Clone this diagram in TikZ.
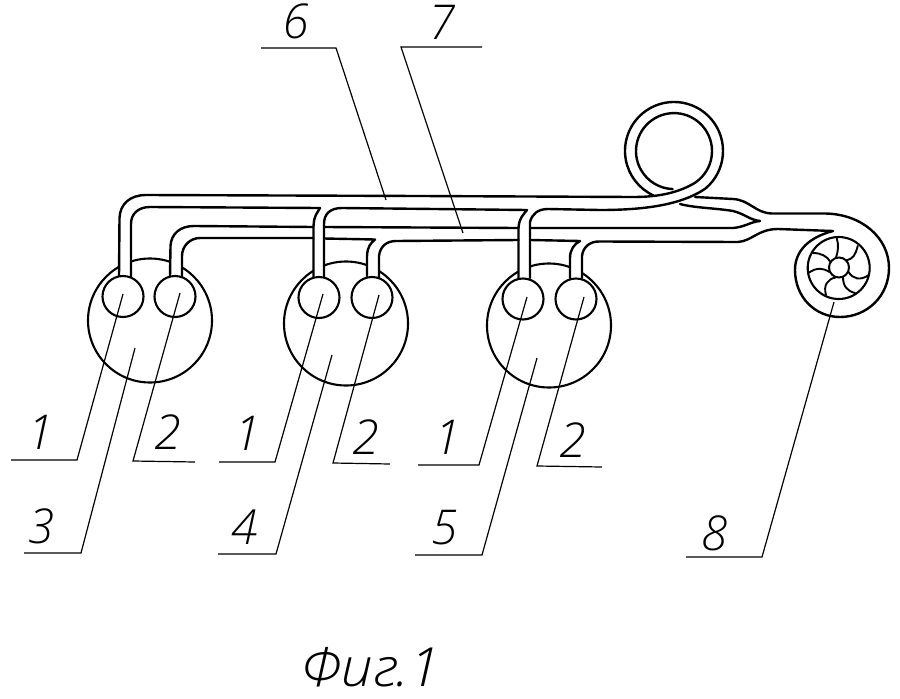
\documentclass[tikz,border=0pt]{standalone}
\usepackage{fontspec}
\newfontfamily\hand{Open Sans Light Italic}
\tikzset{
  wall/.style={line width=2.4pt,line cap=round,line join=round},
  lead/.style={line width=1.2pt,line cap=butt,line join=miter},
  body/.style={draw,circle,line width=2.1pt,inner sep=0pt,minimum size=124pt},
  port/.style={draw,circle,line width=2.1pt,inner sep=0pt,minimum size=41pt,fill=white},
  digit/.style={font=\hand\fontsize{48}{48}\selectfont,inner sep=0pt},
}
\begin{document}
\begin{tikzpicture}[x=1pt,y=-1pt]
\useasboundingbox (0,0) rectangle (900,699);
% bodies
\node[body] (b3) at (150,320.5) {};
\node[body] (b4) at (346,323.5) {};
\node[body] (b5) at (549,325.5) {};
\fill[white] (120,250) rectangle (130,277) (171,250) rectangle (181,277)
  (314,250) rectangle (323,277) (368,250) rectangle (378,277)
  (519,250) rectangle (529,278) (571,250) rectangle (581,278);
% tube 6
\draw[wall] (119,277) -- (119.5,218) .. controls (120,204) and (130,195) .. (146,195) -- (420,196) -- (633,197)
  .. controls (655,197) and (675,194) .. (693,184)
  arc[start angle=-60,end angle=268,radius=38pt];
\draw[wall] (131,277) -- (131,224) .. controls (131,214) and (138,207) .. (150,207) -- (320,208)
  .. controls (318,212) and (314,215) .. (313.5,226) -- (313.5,277);
\draw[wall] (324,277) -- (324,224) .. controls (324,214) and (330,208) .. (342,208) -- (527,210)
  .. controls (524,214) and (519,218) .. (518.5,228) -- (518.5,278);
\draw[wall] (530,278) -- (530,222) .. controls (532,214) and (538,209) .. (548,209) -- (600,210)
  .. controls (640,210) and (680,206) .. (705.5,188.5)
  arc[start angle=-50,end angle=245,radius=49pt];
% tube 7
\draw[wall] (170,277) -- (170.5,246) .. controls (171,234) and (180,226) .. (194,226) -- (313.5,227);
\draw[wall] (182,277) -- (182,256) .. controls (182,246) and (190,238) .. (200,238) -- (313.5,238);
\draw[wall] (324,227) -- (518.5,228);
\draw[wall] (324,238.5) -- (375,239.5) .. controls (371,243) and (367.5,246) .. (367,256) -- (367,278);
\draw[wall] (379,278) -- (379,256) .. controls (380,247) and (386,241) .. (396,241) -- (518.5,240);
\draw[wall] (530,228) -- (733,228) .. controls (745,227) and (750,222) .. (760,221)
  .. controls (750,220) and (745,214) .. (733,211) .. controls (715,208) and (695,208) .. (680,204);
\draw[wall] (530,240) -- (580,241) .. controls (574,244) and (570,250) .. (570,258) -- (570,278);
\draw[wall] (582,278) -- (582,256) .. controls (583,247) and (590,241) .. (600,241.5) -- (738,242)
  .. controls (752,241) and (758,229) .. (778,229) -- (833,231)
  .. controls (810,237) and (795,250) .. (795,270)
  .. controls (795,297) and (815,317) .. (840,317)
  .. controls (867,317) and (889,296) .. (889,268)
  .. controls (889,238) and (862,214) .. (825,213.5) -- (772,213.5)
  .. controls (755,213) and (750,200) .. (733,199) -- (695,197);
% ports
\node[port] (p3a) at (123,296.5) {};
\node[port] (p3b) at (175,296.5) {};
\node[port] (p4a) at (319,297.5) {};
\node[port] (p4b) at (372,297.5) {};
\node[port] (p5a) at (523,299) {};
\node[port] (p5b) at (576,299) {};
% fan
\node[draw,circle,line width=2.1pt,inner sep=0pt,minimum size=62pt] (fan) at (838.7,268) {};
\node[draw,circle,line width=2pt,inner sep=0pt,minimum size=20pt] (hub) at (839,267.5) {};
\draw[wall,line width=1.9pt]
  (836.7,238) .. controls (839,245) and (838,252) .. (836,257.5)
  (857.7,246) .. controls (855.5,255) and (853,259) .. (846,260.5)
  (869,275) .. controls (860,281) and (853,279) .. (848.5,272)
  (855,293) .. controls (847,291) and (843,286) .. (843,277)
  (826,295) .. controls (823,285) and (828,279) .. (835.5,277.5)
  (808.3,273) .. controls (817,267) and (823,268) .. (829.5,272)
  (812.7,253) .. controls (821,253) and (827,256) .. (830.5,262);
% leaders
\coordinate (t3a) at (123,294); \coordinate (t3b) at (180,293); \coordinate (t3) at (135,348);
\coordinate (t4a) at (323,294); \coordinate (t4b) at (379,295); \coordinate (t4) at (332,355);
\coordinate (t5a) at (527,297); \coordinate (t5b) at (584,297); \coordinate (t5) at (537,358);
\coordinate (t6) at (386,200); \coordinate (t7) at (463,233); \coordinate (t8) at (834,302);
\draw[lead] (11,460) -- (77,460) -- (t3a);
\draw[lead] (195,462) -- (133,461) -- (t3b);
\draw[lead] (24,553) -- (81,553) -- (t3);
\draw[lead] (219,462) -- (275,462) -- (t4a);
\draw[lead] (390,464) -- (333,463) -- (t4b);
\draw[lead] (218,554) -- (276,554) -- (t4);
\draw[lead] (418,465) -- (479,465) -- (t5a);
\draw[lead] (602,467) -- (537,466) -- (t5b);
\draw[lead] (415,555) -- (482,555) -- (t5);
\draw[lead] (261,48) -- (336,48) -- (t6);
\draw[lead] (482,47) -- (401,47) -- (t7);
\draw[lead] (686,557) -- (762,557) -- (t8);
% labels
\node[digit] (l1a) at (41,432) {1};
\node[digit] (l2a) at (168,432) {2};
\node[digit] (l3) at (42,526) {3};
\node[digit] (l1b) at (248,433) {1};
\node[digit] (l2b) at (366,437) {2};
\node[digit] (l4) at (245,527) {4};
\node[digit] (l1c) at (448,437) {1};
\node[digit] (l2c) at (573,440) {2};
\node[digit] (l5) at (445,528) {5};
\node[digit] (l6) at (296,21) {6};
\node[digit] (l7) at (442,22) {7};
\node[digit] (l8) at (715,533) {8};
\node[digit,font=\hand\fontsize{54}{54}\selectfont,xscale=1.05] (cap) at (371,667) {Фиг.1};
\end{tikzpicture}
\end{document}
